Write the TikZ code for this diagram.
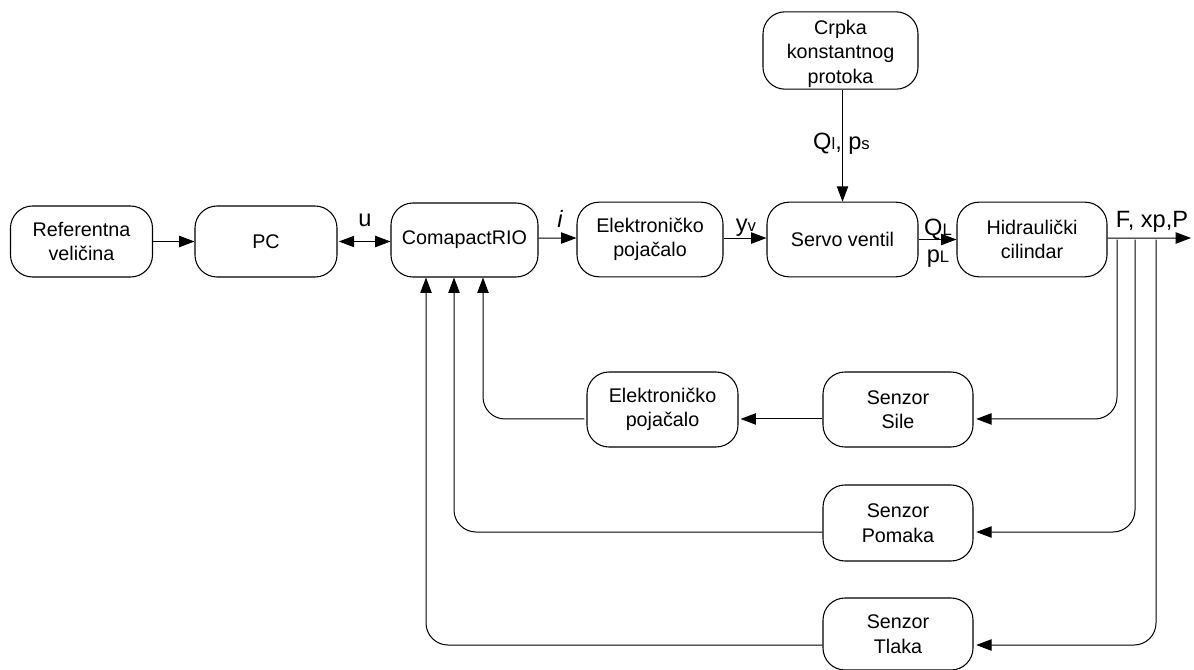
\documentclass[tikz,border=0pt]{standalone}
\usepackage{fontspec}
\setmainfont{Liberation Sans}
\usetikzlibrary{arrows.meta,calc}
\newcommand{\boxfont}{\fontsize{14.8}{18.4}\selectfont}
\newcommand{\lblfont}{\fontsize{17.7}{20}\selectfont}
\newcommand{\smallsub}[1]{{\fontsize{12.5}{14}\selectfont #1}}
\tikzset{
  x=0.75pt,y=-0.75pt,
  blockbox/.style={draw=black,line width=0.8pt,rounded corners=16.5pt,fill=white,align=center,
    inner sep=0pt,minimum width=#1*0.75pt,font=\boxfont},
  lbl/.style={inner sep=0pt,font=\lblfont,anchor=base},
  conn/.style={draw=black,line width=0.75pt,-{Triangle[length=11.5pt,width=8.5pt]}},
  plain/.style={draw=black,line width=0.75pt},
  both/.style={draw=black,line width=0.75pt,{Triangle[length=11.5pt,width=8.5pt]}-{Triangle[length=11.5pt,width=8.5pt]}},
  loop/.style={draw=black,line width=0.75pt,rounded corners=16.5pt,-{Triangle[length=11.5pt,width=8.5pt]}}
}
\begin{document}
\begin{tikzpicture}
\useasboundingbox (0,0) rectangle (1194,670);
\fill[white] (0,0) rectangle (1194,670);
\node[blockbox=142,minimum height=53.25pt] (ref) at (81.5,241.5) {Referentna\\veličina};
\node[blockbox=142,minimum height=53.25pt] (pc) at (266,241.5) {PC};
\node[blockbox=147,minimum height=55.5pt] (rio) at (464.5,240) {ComapactRIO};
\node[blockbox=146,minimum height=56pt] (ea) at (650,239.5) {Elektroničko\\pojačalo};
\node[blockbox=151,minimum height=56pt] (sv) at (842.5,239.5) {Servo ventil};
\node[blockbox=150,minimum height=56pt] (hc) at (1032,239.5) {Hidraulički\\cilindar};
\node[blockbox=155,minimum height=58pt] (cr) at (840.5,50.5) {\rule{0pt}{15.5pt}Crpka\\konstantnog\\protoka};
\node[blockbox=151,minimum height=56.25pt] (eb) at (662.5,409.5) {Elektroničko\\pojačalo};
\node[blockbox=150,minimum height=56.25pt] (ss) at (898,409.5) {Senzor\\Sile};
\node[blockbox=150,minimum height=57pt] (sp) at (898,523) {Senzor\\Pomaka};
\node[blockbox=150,minimum height=54pt] (st) at (898,634) {Senzor\\Tlaka};
\coordinate (out) at (1191,238);
\coordinate (ls) at (1117,419);
\coordinate (lp) at (1135,532);
\coordinate (lt) at (1156,645);
\coordinate (ra) at (483,419);
\coordinate (rb) at (454,532);
\coordinate (rc) at (426,645);
\draw[conn] (ref.east) -- (pc.west);
\draw[both] ([xshift=1pt]pc.east) -- (rio.west |- pc.east);
\draw[conn] ([yshift=1.5pt]rio.east) -- ([yshift=1.1pt]ea.west);
\draw[conn] ([yshift=1.1pt]ea.east) -- ([yshift=1.1pt]sv.west);
\draw[conn] (sv.east) -- (hc.west);
\draw[conn] (sv.north |- cr.south) -- (sv.north);
\draw[conn] ([yshift=1.1pt]hc.east) -- (out);
\draw[loop] (ls |- hc.east) -- (ls) -- ([xshift=2pt,yshift=-7.1pt]ss.east);
\draw[loop] (lp |- hc.east) -- (lp) -- ([xshift=2pt,yshift=-6.75pt]sp.east);
\draw[loop] (lt |- hc.east) -- (lt) -- ([xshift=2pt,yshift=-8.25pt]st.east);
\draw[conn] ([yshift=-7.1pt]ss.west) -- ([xshift=1.5pt,yshift=-7.1pt]eb.east);
\draw[loop] ([xshift=-1.5pt,yshift=-7.1pt]eb.west) -- (ra) -- (ra |- rio.south);
\draw[loop] ([yshift=-6.75pt]sp.west) -- (rb) -- (rb |- rio.south);
\draw[loop] ([yshift=-8.25pt]st.west) -- (rc) -- (rc |- rio.south);
\node[lbl] (lu) at (365,227) {u};
\node[lbl] (li) at (560,228) {\itshape i};
\node[lbl] (ly) at (746,231) {y\smallsub{v}};
\node[lbl] (lq) at (938,235) {Q\smallsub{L}};
\node[lbl] (lpl) at (938,262) {p\smallsub{L}};
\node[lbl] (lql) at (841.5,150) {Q\smallsub{l}, p\smallsub{s}};
\node[lbl] (lf) at (1152,228) {F, xp,P};
\end{tikzpicture}
\end{document}
